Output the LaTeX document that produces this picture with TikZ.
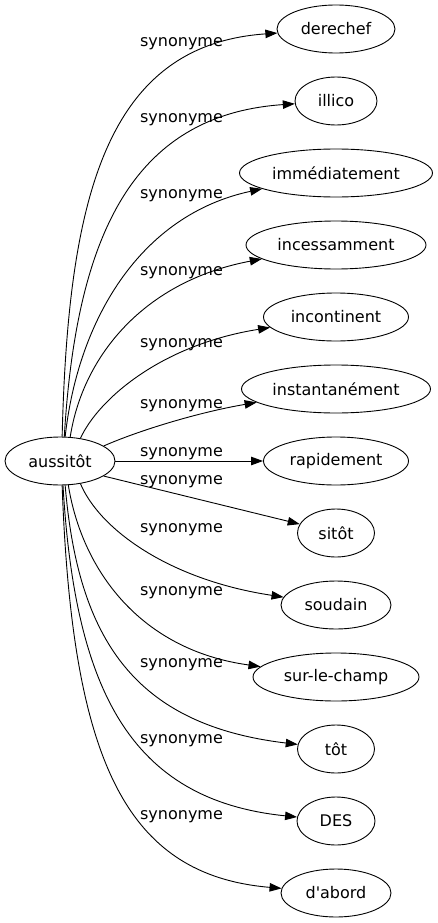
\documentclass[tikz,border=0pt]{standalone}
\usepackage{fontspec}
\setmainfont{DejaVu Sans}[Ligatures=TeXOff]
\usetikzlibrary{shapes.geometric,arrows.meta}
\begin{document}
\begin{tikzpicture}[x=1pt,y=-1pt,
  every node/.style={font=\fontsize{16}{19}\selectfont},
  ell/.style={draw, ellipse, line width=0.9pt, minimum height=48pt, inner sep=0pt},
  edge/.style={line width=0.9pt, -{Triangle[length=12pt,width=8.5pt]}},
  lbl/.style={anchor=base, inner sep=0pt}]
\useasboundingbox (0,0) rectangle (437,923);
\node[ell, minimum width=110pt] (a) at (60,461) {aussitôt};
\node[ell, minimum width=118pt] (b1) at (336,29) {derechef};
\node[ell, minimum width=82pt] (b2) at (336,101) {illico};
\node[ell, minimum width=193pt] (b3) at (336,173) {immédiatement};
\node[ell, minimum width=180pt] (b4) at (336,245) {incessamment};
\node[ell, minimum width=145pt] (b5) at (336,317) {incontinent};
\node[ell, minimum width=189pt] (b6) at (336,389) {instantanément};
\node[ell, minimum width=145pt] (b7) at (336,461) {rapidement};
\node[ell, minimum width=77pt] (b8) at (336,533) {sitôt};
\node[ell, minimum width=110pt] (b9) at (336,605) {soudain};
\node[ell, minimum width=166pt] (b10) at (336,677) {sur-le-champ};
\node[ell, minimum width=77pt] (b11) at (336,749) {tôt};
\node[ell, minimum width=78pt] (b12) at (336,821) {DES};
\node[ell, minimum width=110pt] (b13) at (336,893) {d'abord};

\draw[edge] (a.85) .. controls (68,200) and (105,45) .. (b1) node[lbl] at (181.5,47) {synonyme};
\draw[edge] (a.80) .. controls (76,240) and (130,115) .. (b2) node[lbl] at (181.5,123) {synonyme};
\draw[edge] (a.78) .. controls (78,320) and (140,215) .. (b3) node[lbl] at (181.5,198) {synonyme};
\draw[edge] (a.67) .. controls (83,355) and (145,281) .. (b4) node[lbl] at (181.5,275) {synonyme};
\draw[edge] (a.48) .. controls (98,400) and (160,345) .. (b5) node[lbl] at (181.5,347) {synonyme};
\draw[edge] (a.19) .. controls (140,430) and (200,412) .. (b6) node[lbl] at (181.5,408) {synonyme};
\draw[edge] (a.east) -- (b7) node[lbl] at (181.5,456) {synonyme};
\draw[edge] (a.-19) -- (b8) node[lbl] at (181.5,484) {synonyme};
\draw[edge] (a.-48) .. controls (100,530) and (170,580) .. (b9) node[lbl] at (181.5,532) {synonyme};
\draw[edge] (a.-71) .. controls (82,570) and (140,650) .. (b10) node[lbl] at (181.5,595) {synonyme};
\draw[edge] (a.-78) .. controls (78,640) and (135,725) .. (b11) node[lbl] at (181.5,667) {synonyme};
\draw[edge] (a.-83) .. controls (75,690) and (130,800) .. (b12) node[lbl] at (181.5,743) {synonyme};
\draw[edge] (a.-85) .. controls (72,760) and (125,875) .. (b13) node[lbl] at (181.5,819) {synonyme};
\end{tikzpicture}
\end{document}
